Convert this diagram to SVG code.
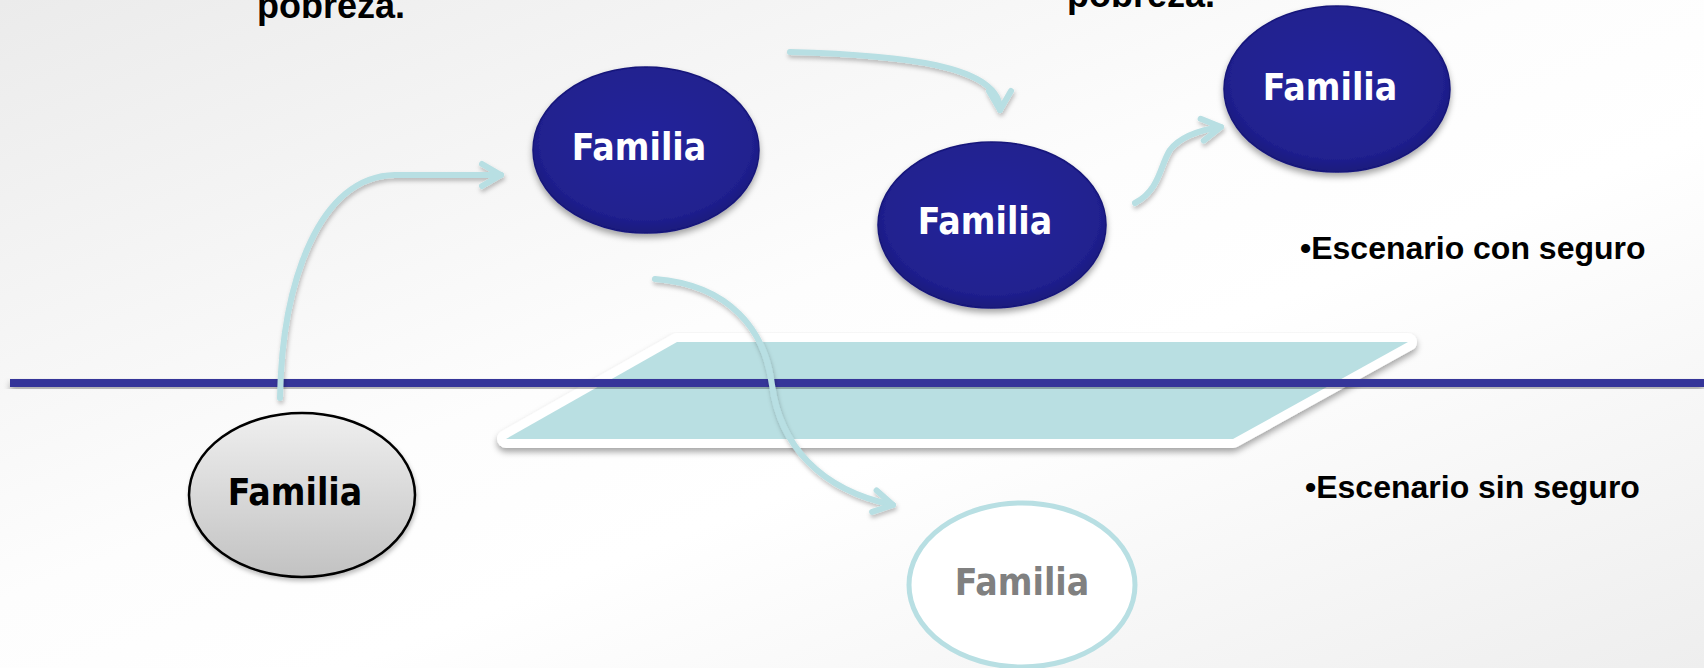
<svg xmlns="http://www.w3.org/2000/svg" width="1704" height="668" viewBox="0 0 1704 668">
  <style>
    .fam { font-family: "DejaVu Sans", "Liberation Sans", sans-serif; font-weight: bold; font-size: 37px; font-stretch: condensed; text-anchor: middle; }
    .lbl { font-family: "Liberation Sans", Arial, sans-serif; font-weight: bold; font-size: 32px; fill: #000; }
    .big { font-family: "Liberation Sans", Arial, sans-serif; font-weight: bold; font-size: 36px; fill: #000; }
    .conn { fill: none; stroke: #b8dfe3; stroke-width: 6; stroke-linecap: round; }
    .blue { fill: url(#gBlue); stroke: #17177a; stroke-width: 1.5; }
  </style>
  <defs>
    <linearGradient id="gBg" x1="0" y1="0" x2="1" y2="1">
      <stop offset="0" stop-color="#ebebeb"/>
      <stop offset="0.45" stop-color="#fdfdfd"/>
      <stop offset="0.6" stop-color="#ffffff"/>
      <stop offset="1" stop-color="#eeeeee"/>
    </linearGradient>
    <radialGradient id="gBlue" cx="0.5" cy="0.45" r="0.55">
      <stop offset="0" stop-color="#22229b"/>
      <stop offset="0.85" stop-color="#20208f"/>
      <stop offset="1" stop-color="#1a1a7c"/>
    </radialGradient>
    <linearGradient id="gGray" x1="0" y1="0" x2="0" y2="1">
      <stop offset="0" stop-color="#efefef"/>
      <stop offset="1" stop-color="#c2c2c2"/>
    </linearGradient>
    <filter id="sh" x="-10%" y="-10%" width="120%" height="130%">
      <feDropShadow dx="0" dy="4" stdDeviation="3" flood-color="#000" flood-opacity="0.35"/>
    </filter>
    <filter id="shs" x="-10%" y="-10%" width="120%" height="130%">
      <feDropShadow dx="1" dy="3" stdDeviation="2" flood-color="#000" flood-opacity="0.25"/>
    </filter>
    <marker id="chev" viewBox="-26 -16 32 32" refX="0" refY="0" markerWidth="32" markerHeight="32" markerUnits="userSpaceOnUse" orient="auto">
      <path d="M-19,-11 L0,0 L-19,11" fill="none" stroke="#b8dfe3" stroke-width="6" stroke-linecap="round" stroke-linejoin="round"/>
    </marker>
  </defs>

  <rect x="0" y="0" width="1704" height="668" fill="url(#gBg)"/>

  <text class="big" x="257" y="18">pobreza.</text>
  <text class="big" x="1067" y="7">pobreza.</text>

  <g id="plane">
    <polygon points="677,342 1408,342 1233,439 506,439" fill="#ffffff" stroke="#ffffff" stroke-width="18" stroke-linejoin="round" filter="url(#sh)"/>
    <polygon points="677,342 1408,342 1233,439 506,439" fill="#b9dfe2"/>
  </g>

  <g id="divider">
    <rect x="10" y="379" width="1694" height="8" fill="#363699" filter="url(#sh)"/>
  </g>

  <g id="node-top-left">
    <ellipse class="blue" cx="646" cy="150" rx="113" ry="83" filter="url(#sh)"/>
    <text class="fam" x="639" y="160" fill="#ffffff">Familia</text>
  </g>
  <g id="node-middle">
    <ellipse class="blue" cx="992" cy="225" rx="114" ry="83" filter="url(#sh)"/>
    <text class="fam" x="985" y="234" fill="#ffffff">Familia</text>
  </g>
  <g id="node-top-right">
    <ellipse class="blue" cx="1337" cy="89" rx="113" ry="83" filter="url(#sh)"/>
    <text class="fam" x="1330" y="100" fill="#ffffff">Familia</text>
  </g>
  <g id="node-base">
    <ellipse cx="302" cy="495" rx="113" ry="82" fill="url(#gGray)" stroke="#000" stroke-width="2.5" filter="url(#shs)"/>
    <text class="fam" x="295" y="505" fill="#000000">Familia</text>
  </g>
  <g id="node-poor">
    <ellipse cx="1022" cy="585" rx="113" ry="82" fill="#ffffff" stroke="#b8dfe3" stroke-width="5"/>
    <text class="fam" x="1022" y="595" fill="#808080">Familia</text>
  </g>

  <g id="connectors" filter="url(#shs)">
    <path class="conn" d="M280,398 C282,280 320,176 395,175 L501,175" marker-end="url(#chev)"/>
    <path class="conn" d="M790,52 C900,55 1000,65 1000,110" marker-end="url(#chev)"/>
    <path class="conn" d="M1135,203 C1160,190 1160,165 1170,150 C1180,137 1200,130 1221,127" marker-end="url(#chev)"/>
    <path class="conn" d="M655,279 C730,285 765,330 772,385 C780,445 820,490 893,505" marker-end="url(#chev)"/>
  </g>

  <text class="lbl" x="1300" y="259">•Escenario con seguro</text>
  <text class="lbl" x="1305" y="498">•Escenario sin seguro</text>
</svg>
